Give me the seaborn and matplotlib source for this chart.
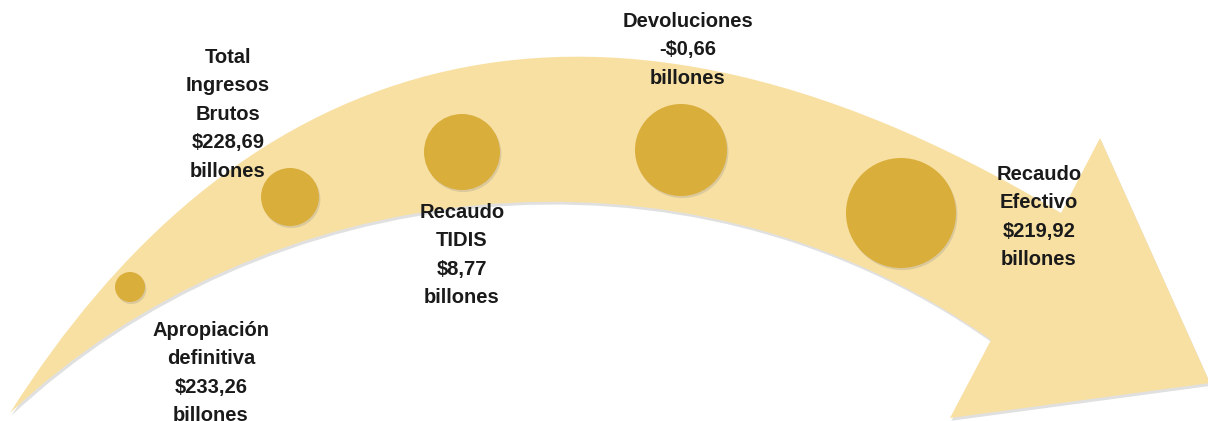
"""
Flujo de recaudo: apropiación -> recaudo efectivo, drawn as a curved arrow.
"""
import matplotlib
matplotlib.use("Agg")
import matplotlib.pyplot as plt
import matplotlib.patheffects as pe
from matplotlib.path import Path
from matplotlib.patches import PathPatch
import seaborn as sns
import pandas as pd

# data
stages = ["Apropiación\ndefinitiva", "Total\nIngresos\nBrutos", "Recaudo\nTIDIS",
          "Devoluciones", "Recaudo\nEfectivo"]
amounts = [233.26, 228.69, 8.77, -0.66, 219.92]
unit = "billones"

# layout (pixel coords, y down)
circle_x = [130, 290, 462, 681, 901]
circle_y = [287, 197, 152, 150, 213]
circle_r = [15, 29, 38, 46, 55]
label_x = [211, 228, 462, 688, 1039]
label_top = [321, 48, 203, 12, 165]

W, H = 1208, 421
band_color = "#F8E0A3"
dot_color = "#D9AE3B"


def fmt(v):
    s = f"{abs(v):,.2f}".replace(",", " ").replace(".", ",")
    return ("-" if v < 0 else "") + "\\$" + s


sns.set_theme(style="white")
plt.rcParams["font.family"] = ["Liberation Sans", "DejaVu Sans"]

fig = plt.figure(figsize=(W / 100, H / 100), dpi=100)
ax = fig.add_axes([0, 0, 1, 1])
ax.set_xlim(0, W)
ax.set_ylim(H, 0)
ax.axis("off")

# curved arrow: top edge, head, bottom edge back to the tail
verts = [
    (10, 413), (225, 72), (570, -82), (1061, 213),   # top edge
    (1100, 138), (1210, 383), (950, 418), (991, 340),  # head
    (680, 120), (262, 176), (10, 413),               # bottom edge
    (10, 413),
]
codes = [Path.MOVETO, Path.CURVE4, Path.CURVE4, Path.CURVE4,
         Path.LINETO, Path.LINETO, Path.LINETO, Path.LINETO,
         Path.CURVE4, Path.CURVE4, Path.CURVE4, Path.CLOSEPOLY]
arrow = PathPatch(Path(verts, codes), facecolor=band_color, edgecolor="none", zorder=1)
arrow.set_path_effects([pe.SimplePatchShadow(offset=(1, -2), shadow_rgbFace="#999999", alpha=0.3),
                        pe.Normal()])
ax.add_patch(arrow)

df = pd.DataFrame({
    "stage": stages,
    "x": circle_x,
    "y": circle_y,
    "area": [(2 * r * 0.72) ** 2 for r in circle_r],
})
sns.scatterplot(data=df, x="x", y="y", s=df["area"], color=dot_color,
                linewidth=0, legend=False, ax=ax, zorder=3)
ax.collections[-1].set_path_effects([pe.SimplePatchShadow(offset=(1, -1.5), shadow_rgbFace="#888888",
                                                          alpha=0.25),
                                     pe.Normal()])
ax.set_xlim(0, W)
ax.set_ylim(H, 0)

for name, v, x, y in zip(stages, amounts, label_x, label_top):
    txt = f"{name}\n{fmt(v)}\n{unit}"
    ax.text(x, y, txt, ha="center", va="top", fontsize=14.5, fontweight="bold",
            color="#1a1a1a", linespacing=1.63, zorder=4)

fig.savefig("out.png", dpi=100)
